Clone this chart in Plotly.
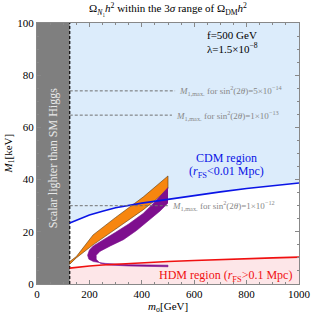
import plotly.graph_objects as go

# ---- data ----
m_sigma = [125, 150, 200, 250, 300, 400, 500, 600, 700, 800, 900, 1000]
cdm_bound = [23.4, 24.5, 26.4, 27.9, 29.2, 31.0, 32.5, 34.0, 35.3, 36.6, 37.7, 38.7]
hdm_bound = [6.1, 6.4, 6.9, 7.3, 7.6, 8.2, 8.6, 9.0, 9.4, 9.7, 10.0, 10.3]

higgs_mass = 125
orange_x = [125, 150, 214, 300, 405, 500, 500, 450, 405, 300, 214, 150, 125]
orange_y = [8.6, 10.5, 18.8, 25.5, 33.3, 41.4, 36.5, 32.0, 28.4, 21.0, 15.0, 10.0, 7.6]

purple_x = [500, 450, 405, 350, 300, 250, 215, 200, 193, 198, 215, 260, 350, 500,
            500, 350, 270, 240, 226, 226, 240, 280, 330, 380, 430, 470, 500]
purple_y = [37.0, 31.5, 27.0, 23.0, 19.8, 16.8, 14.6, 13.0, 11.0, 9.5, 8.6, 7.9, 7.4, 7.2,
            6.6, 6.9, 7.3, 8.0, 9.5, 11.0, 12.5, 14.6, 17.0, 20.5, 24.5, 28.0, 31.0]

mmax_levels = [74.0, 64.7, 30.0]
mmax_ends = [527, 515, 500]
mmax_labels = ["5×10<sup>−14</sup>", "1×10<sup>−13</sup>", "1×10<sup>−12</sup>"]

x_ticks = [0, 200, 400, 600, 800, 1000]
y_ticks = [0, 20, 40, 60, 80, 100]

serif = "Liberation Serif, Times New Roman, serif"

fig = go.Figure()

# CDM region (light blue above blue curve)
fig.add_trace(go.Scatter(x=m_sigma + [1000, 125], y=cdm_bound + [100, 100], fill="toself",
                         fillcolor="#dcecfb", line=dict(width=0), mode="lines", hoverinfo="skip"))
# HDM region (pink below red curve)
fig.add_trace(go.Scatter(x=m_sigma + [1000, 125], y=hdm_bound + [0, 0], fill="toself",
                         fillcolor="#fde6e8", line=dict(width=0), mode="lines", hoverinfo="skip"))
# Gray region
fig.add_trace(go.Scatter(x=[0, higgs_mass, higgs_mass, 0], y=[0, 0, 100, 100], fill="toself",
                         fillcolor="#7f7f7f", line=dict(width=0), mode="lines", hoverinfo="skip"))
fig.add_trace(go.Scatter(x=[higgs_mass, higgs_mass], y=[0, 100], mode="lines",
                         line=dict(color="black", width=1.2, dash="3px,2px"), hoverinfo="skip"))

# orange band
fig.add_trace(go.Scatter(x=orange_x, y=orange_y, fill="toself", fillcolor="#f7860f",
                         line=dict(color="#5a3a10", width=0.6), mode="lines", hoverinfo="skip"))
# purple band
fig.add_trace(go.Scatter(x=purple_x, y=purple_y, fill="toself", fillcolor="#7e0f8e",
                         line=dict(color="#7e0f8e", width=0.6), mode="lines", hoverinfo="skip"))

# boundary curves
fig.add_trace(go.Scatter(x=m_sigma, y=cdm_bound, mode="lines",
                         line=dict(color="#0a14e6", width=1.6), hoverinfo="skip"))
fig.add_trace(go.Scatter(x=m_sigma, y=hdm_bound, mode="lines",
                         line=dict(color="#f01010", width=1.6), hoverinfo="skip"))

# M1,max dashed lines
for lvl, end, lab in zip(mmax_levels, mmax_ends, mmax_labels):
    fig.add_trace(go.Scatter(x=[higgs_mass, end], y=[lvl, lvl], mode="lines",
                             line=dict(color="#707070", width=1, dash="3px,2px"), hoverinfo="skip"))
    fig.add_annotation(x=end + 8, y=lvl, xanchor="left", yanchor="middle", showarrow=False,
                       text="<i>M</i><sub>1,max.</sub> for sin<sup>2</sup>(2<i>θ</i>)=" + lab,
                       font=dict(family=serif, size=9, color="#888888"))

fig.add_annotation(x=641, y=95.4, xanchor="left", yanchor="middle", showarrow=False,
                   text="f=500 GeV", font=dict(family=serif, size=11, color="black"))
fig.add_annotation(x=641, y=90.4, xanchor="left", yanchor="middle", showarrow=False,
                   text="λ=1.5×10<sup>−8</sup>", font=dict(family=serif, size=11, color="black"))
fig.add_annotation(x=725, y=48.3, xanchor="center", yanchor="middle", showarrow=False,
                   text="CDM region", font=dict(family=serif, size=12, color="#0a14e6"))
fig.add_annotation(x=725, y=42.9, xanchor="center", yanchor="middle", showarrow=False,
                   text="(<i>r</i><sub>FS</sub><0.01 Mpc)", font=dict(family=serif, size=12, color="#0a14e6"))
fig.add_annotation(x=718, y=2.9, xanchor="center", yanchor="middle", showarrow=False,
                   text="HDM region (<i>r</i><sub>FS</sub>>0.1 Mpc)", font=dict(family=serif, size=12, color="#f01010"))
fig.add_annotation(x=62, y=48.3, xanchor="center", yanchor="middle", showarrow=False, textangle=-90,
                   text="Scalar lighter than SM Higgs", font=dict(family=serif, size=12, color="#e8e8e8"))

# axis titles
fig.add_annotation(xref="paper", yref="paper", x=0.5, y=0, xanchor="center", yanchor="top", yshift=-14,
                   showarrow=False, text="<i>m</i><sub>σ</sub>[GeV]",
                   font=dict(family=serif, size=11, color="black"))
fig.add_annotation(xref="paper", yref="paper", x=0, y=0.5, xanchor="right", yanchor="middle", xshift=-20,
                   showarrow=False, textangle=-90, text="<i>M</i><sub>1</sub>[keV]",
                   font=dict(family=serif, size=11, color="black"))

fig.update_layout(
    width=313, height=316,
    margin=dict(l=37, r=14, t=23, b=32, autoexpand=False),
    paper_bgcolor="white", plot_bgcolor="white",
    showlegend=False,
    title=dict(text="Ω<sub><i>N</i>₁</sub><i>h</i><sup>2</sup> within the 3<i>σ</i> range of Ω<sub>DM</sub><i>h</i><sup>2</sup>",
               x=0.5, xanchor="center", xref="paper", y=0.985, yanchor="top", automargin=False,
               font=dict(family=serif, size=11, color="black")),
    font=dict(family=serif, size=11, color="black"),
)
fig.update_xaxes(range=[0, 1000], tickvals=x_ticks, ticks="inside", ticklen=4, tickcolor="#888",
                 showline=True, linecolor="#888", linewidth=1, mirror="ticks", showgrid=False, zeroline=False,
                 automargin=False,
                 minor=dict(dtick=50, ticks="inside", ticklen=2, tickcolor="#888"),
                 tickfont=dict(family=serif, size=11, color="black"))
fig.update_yaxes(range=[0, 100], tickvals=y_ticks, ticks="inside", ticklen=4, tickcolor="#888",
                 showline=True, linecolor="#888", linewidth=1, mirror="ticks", showgrid=False, zeroline=False,
                 automargin=False,
                 minor=dict(dtick=5, ticks="inside", ticklen=2, tickcolor="#888"),
                 tickfont=dict(family=serif, size=11, color="black"))

fig.write_html("out.html", config={"displayModeBar": False},
               post_script="document.body.style.margin='0';document.body.style.padding='0';")
